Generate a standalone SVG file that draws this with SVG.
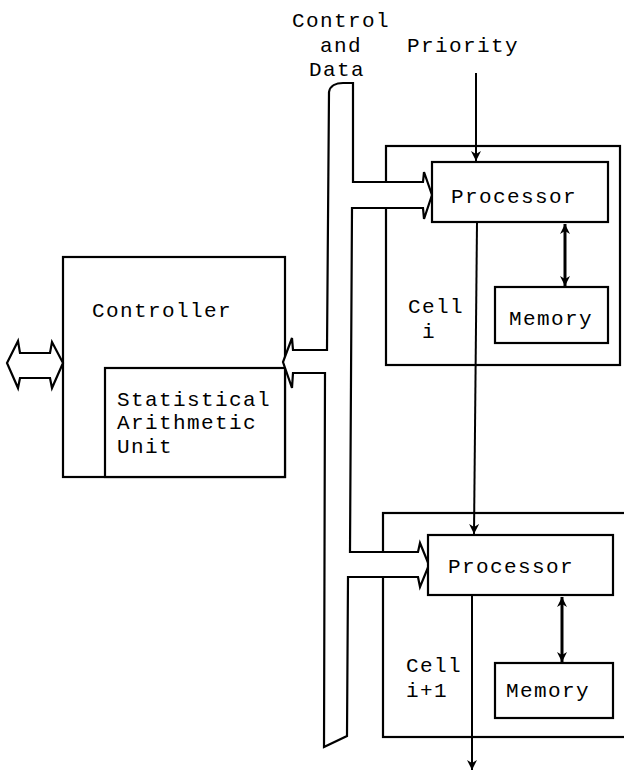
<svg xmlns="http://www.w3.org/2000/svg" width="624" height="772" viewBox="0 0 624 772">
<defs>
<style>
.b{fill:#fff;stroke:#000;stroke-width:2.2;stroke-linejoin:miter}
.t{font-family:"Liberation Mono","DejaVu Sans Mono",monospace;font-size:21px;letter-spacing:1.4px;fill:#000}
.l{fill:none;stroke:#000;stroke-width:2}
.d{fill:none;stroke:#000;stroke-width:3}
</style>
<marker id="ah" viewBox="0 0 10 10" refX="10" refY="5" markerWidth="10" markerHeight="10" markerUnits="userSpaceOnUse" orient="auto-start-reverse">
<path d="M0,0 L10,5 L0,10 L3,5 Z" fill="#000"/>
</marker>
</defs>
<rect width="624" height="772" fill="#fff"/>

<g id="labels">
<text class="t" x="292" y="27">Control</text>
<text class="t" x="320" y="52">and</text>
<text class="t" x="309" y="76">Data</text>
<text class="t" x="407" y="52">Priority</text>
</g>

<g id="cell_i">
<rect class="b" x="386" y="146" width="234" height="219"/>
<text class="t" x="408" y="313">Cell</text>
<text class="t" x="422" y="338">i</text>
</g>

<g id="cell_i1">
<rect class="b" x="383" y="513" width="260" height="224"/>
<text class="t" x="406" y="672">Cell</text>
<text class="t" x="406" y="697">i+1</text>
</g>

<g id="controller">
<rect class="b" x="63" y="257" width="222" height="220"/>
<text class="t" x="92" y="317">Controller</text>
</g>

<g id="sau">
<rect class="b" x="105" y="368" width="180" height="109"/>
<text class="t" x="117" y="406">Statistical</text>
<text class="t" x="117" y="429">Arithmetic</text>
<text class="t" x="117" y="453">Unit</text>
</g>

<g id="connectors">
<path id="bus" class="b" d="M329,92 C330,86 336,83 343,83 L353,83 L353,182 L423,182 L424,172 L432,195 L424,219 L423,208 L352,208 L350,552 L418,552 L420,543 L429,565 L420,587 L418,577 L348,577 L347,736 L324,747 L325,373 L293,373 L292,388 L283,362 L292,338 L293,350 L327,350 Z"/>
<path id="ext" class="b" d="M7,363 L18,341 L20,353 L50,353 L52,342 L63,363 L52,388 L50,378 L20,378 L18,388 Z"/>
<path class="l" d="M476,73 L476,161" marker-end="url(#ah)"/>
<path class="l" d="M477,222 L474,534" marker-end="url(#ah)"/>
<path class="l" d="M472,595 L472,770" marker-end="url(#ah)"/>
<path class="d" d="M565,224 L565,286" marker-start="url(#ah)" marker-end="url(#ah)"/>
<path class="d" d="M562,597 L562,662" marker-start="url(#ah)" marker-end="url(#ah)"/>
</g>

<g id="processor_i">
<rect class="b" x="432" y="162" width="176" height="60"/>
<text class="t" x="451" y="203">Processor</text>
</g>

<g id="memory_i">
<rect class="b" x="495" y="287" width="113" height="56"/>
<text class="t" x="509" y="325">Memory</text>
</g>

<g id="processor_i1">
<rect class="b" x="428" y="535" width="185" height="60"/>
<text class="t" x="448" y="573">Processor</text>
</g>

<g id="memory_i1">
<rect class="b" x="495" y="663" width="118" height="55"/>
<text class="t" x="506" y="697">Memory</text>
</g>
</svg>
